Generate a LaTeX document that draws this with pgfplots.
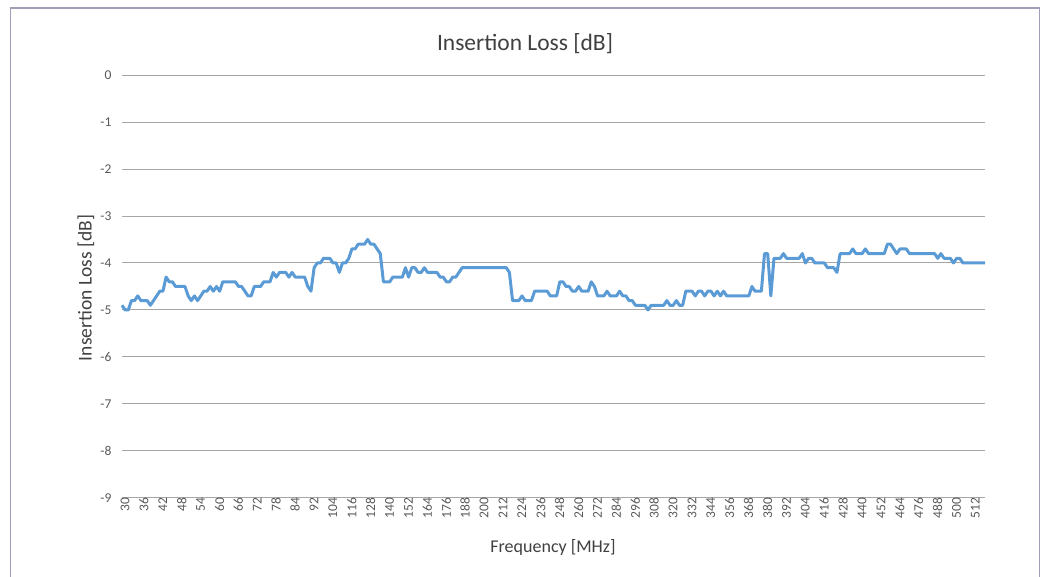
\documentclass[border=0pt]{standalone}
\usepackage{fontspec}
\setmainfont{Carlito}
\usepackage{pgfplots}
\pgfplotsset{compat=1.18}
\definecolor{linec}{HTML}{5B9BD5}
\definecolor{gridc}{HTML}{A6A6A6}
\definecolor{txtc}{HTML}{595959}
\definecolor{titc}{HTML}{404040}
\definecolor{bordc}{HTML}{A59CB8}
\pgfplotstableread{
j y
0 -4.9
1 -5.0
2 -5.0
3 -4.8
4 -4.8
5 -4.7
6 -4.8
7 -4.8
8 -4.8
9 -4.9
10 -4.8
11 -4.7
12 -4.6
13 -4.6
14 -4.3
15 -4.4
16 -4.4
17 -4.5
18 -4.5
19 -4.5
20 -4.5
21 -4.7
22 -4.8
23 -4.7
24 -4.8
25 -4.7
26 -4.6
27 -4.6
28 -4.5
29 -4.6
30 -4.5
31 -4.6
32 -4.4
33 -4.4
34 -4.4
35 -4.4
36 -4.4
37 -4.5
38 -4.5
39 -4.6
40 -4.7
41 -4.7
42 -4.5
43 -4.5
44 -4.5
45 -4.4
46 -4.4
47 -4.4
48 -4.2
49 -4.3
50 -4.2
51 -4.2
52 -4.2
53 -4.3
54 -4.2
55 -4.3
56 -4.3
57 -4.3
58 -4.3
59 -4.5
60 -4.6
61 -4.1
62 -4.0
63 -4.0
64 -3.9
65 -3.9
66 -3.9
67 -4.0
68 -4.0
69 -4.2
70 -4.0
71 -4.0
72 -3.9
73 -3.7
74 -3.7
75 -3.6
76 -3.6
77 -3.6
78 -3.5
79 -3.6
80 -3.6
81 -3.7
82 -3.8
83 -4.4
84 -4.4
85 -4.4
86 -4.3
87 -4.3
88 -4.3
89 -4.3
90 -4.1
91 -4.3
92 -4.1
93 -4.1
94 -4.2
95 -4.2
96 -4.1
97 -4.2
98 -4.2
99 -4.2
100 -4.2
101 -4.3
102 -4.3
103 -4.4
104 -4.4
105 -4.3
106 -4.3
107 -4.2
108 -4.1
109 -4.1
110 -4.1
111 -4.1
112 -4.1
113 -4.1
114 -4.1
115 -4.1
116 -4.1
117 -4.1
118 -4.1
119 -4.1
120 -4.1
121 -4.1
122 -4.1
123 -4.2
124 -4.8
125 -4.8
126 -4.8
127 -4.7
128 -4.8
129 -4.8
130 -4.8
131 -4.6
132 -4.6
133 -4.6
134 -4.6
135 -4.6
136 -4.7
137 -4.7
138 -4.7
139 -4.4
140 -4.4
141 -4.5
142 -4.5
143 -4.6
144 -4.6
145 -4.5
146 -4.6
147 -4.6
148 -4.6
149 -4.4
150 -4.5
151 -4.7
152 -4.7
153 -4.7
154 -4.6
155 -4.7
156 -4.7
157 -4.7
158 -4.6
159 -4.7
160 -4.7
161 -4.8
162 -4.8
163 -4.9
164 -4.9
165 -4.9
166 -4.9
167 -5.0
168 -4.9
169 -4.9
170 -4.9
171 -4.9
172 -4.9
173 -4.8
174 -4.9
175 -4.9
176 -4.8
177 -4.9
178 -4.9
179 -4.6
180 -4.6
181 -4.6
182 -4.7
183 -4.6
184 -4.6
185 -4.7
186 -4.6
187 -4.6
188 -4.7
189 -4.6
190 -4.7
191 -4.6
192 -4.7
193 -4.7
194 -4.7
195 -4.7
196 -4.7
197 -4.7
198 -4.7
199 -4.7
200 -4.5
201 -4.6
202 -4.6
203 -4.6
204 -3.8
205 -3.8
206 -4.7
207 -3.9
208 -3.9
209 -3.9
210 -3.8
211 -3.9
212 -3.9
213 -3.9
214 -3.9
215 -3.9
216 -3.8
217 -4.0
218 -3.9
219 -3.9
220 -4.0
221 -4.0
222 -4.0
223 -4.0
224 -4.1
225 -4.1
226 -4.1
227 -4.2
228 -3.8
229 -3.8
230 -3.8
231 -3.8
232 -3.7
233 -3.8
234 -3.8
235 -3.8
236 -3.7
237 -3.8
238 -3.8
239 -3.8
240 -3.8
241 -3.8
242 -3.8
243 -3.6
244 -3.6
245 -3.7
246 -3.8
247 -3.7
248 -3.7
249 -3.7
250 -3.8
251 -3.8
252 -3.8
253 -3.8
254 -3.8
255 -3.8
256 -3.8
257 -3.8
258 -3.8
259 -3.9
260 -3.8
261 -3.9
262 -3.9
263 -3.9
264 -4.0
265 -3.9
266 -3.9
267 -4.0
268 -4.0
269 -4.0
270 -4.0
271 -4.0
272 -4.0
273 -4.0
274 -4.0
}\loss
\begin{document}
\begin{tikzpicture}[x=1pt,y=1pt]
\useasboundingbox (0,0) rectangle (1049,577);
\draw[bordc, line width=1.2pt] (10.5,-10) rectangle (1039.5,569);
\begin{axis}[
  at={(122pt,79pt)}, anchor=south west,
  scale only axis, width=863pt, height=423pt,
  xmin=0, xmax=274, ymin=-9, ymax=0,
  axis line style={draw=none},
  major tick length=0pt,
  xtick={0,6,...,270},
  xticklabels={30,36,42,48,54,60,66,72,78,84,92,104,116,128,140,152,164,176,188,200,212,224,236,248,260,272,284,296,308,320,332,344,356,368,380,392,404,416,428,440,452,464,476,488,500,512},
  ytick={-9,-8,...,0},
  ymajorgrids, grid style={gridc, line width=1pt},
  /pgf/number format/assume math mode=true,
  yticklabel style={font=\fontsize{13.5}{15}\selectfont, text=txtc, xshift=-7pt},
  xticklabel style={font=\fontsize{13.5}{15}\selectfont, text=txtc, rotate=90, anchor=east, xshift=4pt, yshift=-3pt},
  clip=false,
]
\addplot[linec, line width=3pt, line join=round] table[x=j,y=y] {\loss};
\end{axis}
\node[font=\fontsize{23.5}{27}\selectfont, text=titc] at (525,533) {Insertion Loss [dB]};
\node[font=\fontsize{18}{21}\selectfont, text=titc] at (553,30) {Frequency [MHz]};
\node[font=\fontsize{19.5}{22}\selectfont, text=titc, rotate=90] at (86,289) {Insertion Loss [dB]};
\end{tikzpicture}
\end{document}
